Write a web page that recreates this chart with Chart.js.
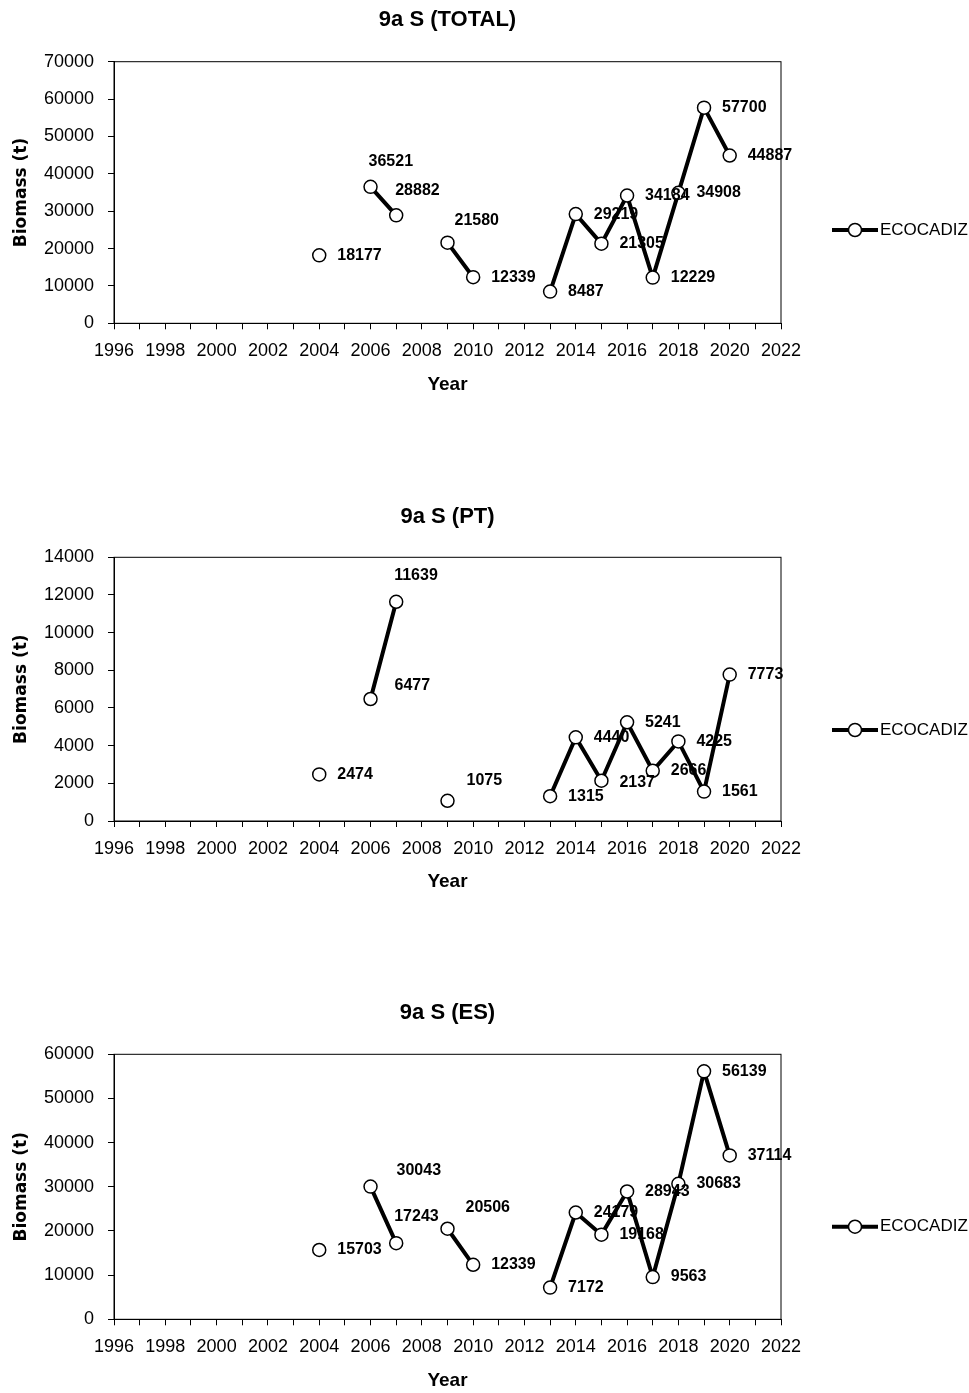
<!DOCTYPE html>
<html>
<head>
<meta charset="utf-8">
<script src="https://cdn.jsdelivr.net/npm/chart.js@4.4.1/dist/chart.umd.min.js"></script>
<style>
  body { margin: 0; background: #fff; }
  .box { position: absolute; left: 0; width: 969px; }
</style>
</head>
<body>
<div class="box" style="top:0px;height:440px"><canvas id="chartTotal"></canvas></div>
<div class="box" style="top:480px;height:440px"><canvas id="chartPT"></canvas></div>
<div class="box" style="top:960px;height:433px"><canvas id="chartES"></canvas></div>
<script>
// survey years and biomass (t), null = no survey
const years = [2004, 2005, 2006, 2007, 2008, 2009, 2010, 2011, 2012, 2013, 2014, 2015, 2016, 2017, 2018, 2019, 2020];
const totalValues = [18177, null, 36521, 28882, null, 21580, 12339, null, null, 8487, 29219, 21305, 34184, 12229, 34908, 57700, 44887];
const ptValues = [2474, null, 6477, 11639, null, 1075, null, null, null, 1315, 4440, 2137, 5241, 2666, 4225, 1561, 7773];
const esValues = [15703, null, 30043, 17243, null, 20506, 12339, null, null, 7172, 24179, 19168, 28943, 9563, 30683, 56139, 37114];
const seriesName = "ECOCADIZ";
const xRange = [1996, 2022];

const fam = "'Liberation Sans', Arial, sans-serif";

// labels that Excel had dragged away from the default "right" spot
const labelMoves = {
  chartTotal: {2006: [-2, -25], 2007: [-1, -25], 2009: [7, -22]},
  chartPT: {2006: [24, -13], 2007: [-2, -26], 2009: [19, -20], 2015: [18, 2]},
  chartES: {2006: [26, -16], 2007: [-2, -27], 2009: [18, -21]}
};

const valueLabels = {
  id: "valueLabels",
  afterDraw(chart) {
    const ctx = chart.ctx;
    const moves = labelMoves[chart.canvas.id] || {};
    const meta = chart.getDatasetMeta(0);
    ctx.save();
    ctx.font = "bold 16px " + fam;
    ctx.fillStyle = "#000";
    ctx.textAlign = "left";
    ctx.textBaseline = "middle";
    meta.data.forEach(function(pt, i) {
      const raw = chart.data.datasets[0].data[i];
      if (raw.y === null) return;
      const mv = moves[raw.x] || [18, 0];
      ctx.fillText(String(raw.y), pt.x + mv[0], pt.y + mv[1]);
    });
    ctx.restore();
  }
};

const plotFrame = {
  id: "plotFrame",
  beforeDatasetsDraw(chart) {
    const a = chart.chartArea;
    const ctx = chart.ctx;
    ctx.save();
    ctx.strokeStyle = "#000";
    ctx.lineWidth = 1;
    ctx.strokeRect(a.left, a.top, a.right - a.left, a.bottom - a.top);
    ctx.restore();
  }
};

const sideLegend = {
  id: "sideLegend",
  afterDraw(chart) {
    const ctx = chart.ctx;
    const a = chart.chartArea;
    const y = chart.options.plugins.sideLegend.y;
    const x0 = a.right + 51;
    ctx.save();
    ctx.strokeStyle = "#000";
    ctx.lineWidth = 4;
    ctx.beginPath();
    ctx.moveTo(x0, y);
    ctx.lineTo(x0 + 46, y);
    ctx.stroke();
    ctx.beginPath();
    ctx.arc(x0 + 23, y, 6.5, 0, Math.PI * 2);
    ctx.fillStyle = "#fff";
    ctx.fill();
    ctx.lineWidth = 1.5;
    ctx.stroke();
    ctx.fillStyle = "#000";
    ctx.font = "17px " + fam;
    ctx.textBaseline = "middle";
    ctx.fillText(chart.data.datasets[0].label, x0 + 48, y);
    ctx.restore();
  }
};

function makeChart(id, title, values, yMax, yStep, g) {
  const pts = years.map(function(yr, i) { return {x: yr, y: values[i]}; });
  new Chart(id, {
    type: "line",
    data: {
      datasets: [{
        label: seriesName,
        data: pts,
        borderColor: "#000",
        borderWidth: 4,
        pointRadius: 6.5,
        pointHoverRadius: 6.5,
        pointBackgroundColor: "#fff",
        pointBorderColor: "#000",
        pointBorderWidth: 1.5,
        spanGaps: false,
        tension: 0
      }]
    },
    options: {
      responsive: true,
      maintainAspectRatio: false,
      animation: false,
      layout: {padding: {left: 0, right: 188, top: 0, bottom: 0}},
      plugins: {
        legend: {display: false},
        tooltip: {enabled: false},
        sideLegend: {y: g.legendY},
        title: {
          display: true,
          fullSize: false,
          text: title,
          color: "#000",
          font: {family: fam, size: 22, weight: "bold"},
          padding: {top: g.titleY - 13.2, bottom: g.plotTop - g.titleY - 13.2}
        }
      },
      scales: {
        x: {
          type: "linear",
          min: xRange[0],
          max: xRange[1],
          afterFit: function(s) { s.height = g.height - g.plotBottom; },
          ticks: {
            stepSize: 1,
            autoSkip: false,
            maxRotation: 0,
            padding: 11,
            color: "#000",
            font: {family: fam, size: 18},
            callback: function(v) { return v % 2 === 0 ? String(v) : ""; }
          },
          grid: {display: true, drawOnChartArea: false, tickLength: 6, color: "#000"},
          border: {color: "#000", width: 1},
          title: {
            display: true,
            text: "Year",
            color: "#000",
            font: {family: fam, size: 19, weight: "bold"},
            padding: {top: 0, bottom: g.height - g.yearY - 11.4}
          }
        },
        y: {
          min: 0,
          max: yMax,
          afterFit: function(s) { s.width = 114; },
          ticks: {
            stepSize: yStep,
            padding: 14,
            color: "#000",
            font: {family: fam, size: 18},
            callback: function(v) { return String(v); }
          },
          grid: {display: true, drawOnChartArea: false, tickLength: 6, color: "#000"},
          border: {color: "#000", width: 1},
          title: {
            display: true,
            text: "Biomass (t)",
            color: "#000",
            font: {family: "'DejaVu Sans', Verdana, sans-serif", size: 17, weight: "bold"},
            padding: {top: 11, bottom: 0}
          }
        }
      }
    },
    plugins: [plotFrame, valueLabels, sideLegend]
  });
}

makeChart("chartTotal", "9a S (TOTAL)", totalValues, 70000, 10000,
  {height: 440, titleY: 20, plotTop: 61.7, plotBottom: 323.3, yearY: 385, legendY: 230});
makeChart("chartPT", "9a S (PT)", ptValues, 14000, 2000,
  {height: 440, titleY: 36.7, plotTop: 77.3, plotBottom: 341, yearY: 401.7, legendY: 250});
makeChart("chartES", "9a S (ES)", esValues, 60000, 10000,
  {height: 433, titleY: 53.3, plotTop: 94.3, plotBottom: 359.3, yearY: 420.7, legendY: 266.7});
</script>
</body>
</html>
